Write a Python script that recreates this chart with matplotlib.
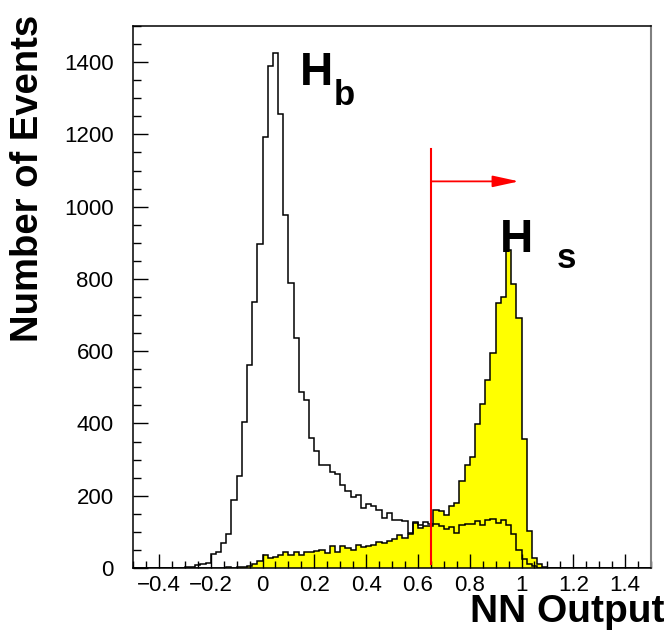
import numpy as np
import matplotlib
matplotlib.use("Agg")
import matplotlib.pyplot as plt
from matplotlib.ticker import MultipleLocator, FuncFormatter

# histogram binning (NN output)
x_min, x_max, bin_width = -0.5, 1.5, 0.02

# background (H_b) counts, first non-empty bin starts at -0.30
bkg_start = -0.30
bkg_counts = [3, 4, 7, 12, 15, 40, 45, 70, 95, 187,
              254, 404, 563, 736, 897, 1194, 1390, 1426, 1256, 977,
              789, 637, 486, 464, 360, 323, 285, 285, 265, 259,
              231, 214, 196, 202, 165, 178, 171, 160, 139, 153,
              133, 133, 130, 96, 126, 120, 127, 121, 123, 116,
              108, 114, 97, 120, 123, 123, 130, 120, 134, 136,
              125, 132, 118, 93, 51, 26, 10, 5, 1]

# signal (H_s) counts, first non-empty bin starts at -0.16
sig_start = -0.16
sig_counts = [1, 2, 1, 3, 2, 5, 10, 19, 37, 27,
              31, 35, 44, 35, 44, 36, 44, 44, 47, 50,
              41, 62, 44, 61, 56, 50, 63, 57, 60, 65,
              72, 70, 74, 81, 92, 84, 93, 125, 111, 115,
              116, 160, 157, 148, 171, 180, 242, 286, 306, 398,
              453, 520, 596, 734, 749, 879, 785, 693, 356, 102,
              29, 11, 3]

nn_cut = 0.65
cut_line_top = 1160
arrow_y = 1070
arrow_end = 0.99

edges = np.round(np.arange(x_min, x_max + bin_width / 2, bin_width), 4)
nbins = len(edges) - 1


def fill_bins(start, counts):
    h = np.zeros(nbins)
    i0 = int(round((start - x_min) / bin_width))
    h[i0:i0 + len(counts)] = counts
    return h


bkg = fill_bins(bkg_start, bkg_counts)
sig = fill_bins(sig_start, sig_counts)

plt.rcParams['font.family'] = ['Liberation Sans', 'DejaVu Sans']

fig = plt.figure(figsize=(6.71, 6.32), dpi=100)
ax = fig.add_axes([133 / 671, 1 - 568 / 632, 518 / 671, 542 / 632])

ax.stairs(sig, edges, fill=True, color='#ffff00', zorder=1)
ax.stairs(sig, edges, color='black', lw=1.1, zorder=2)
ax.stairs(bkg, edges, color='black', lw=1.1, zorder=3)

# cut and arrow
ax.plot([nn_cut, nn_cut], [10, cut_line_top], color='red', lw=1.5, zorder=4)
ax.annotate('', xy=(arrow_end, arrow_y), xytext=(nn_cut, arrow_y),
            arrowprops=dict(arrowstyle='-|>,head_length=1.6,head_width=0.35',
                            color='red', lw=1.3, shrinkA=0, shrinkB=0), zorder=5)

ax.set_xlim(x_min, x_max)
ax.set_ylim(0, 1500)

ax.xaxis.set_major_locator(MultipleLocator(0.2))
ax.xaxis.set_minor_locator(MultipleLocator(0.05))
ax.yaxis.set_major_locator(MultipleLocator(200))
ax.yaxis.set_minor_locator(MultipleLocator(50))


def fmt(v, pos):
    if abs(v) < 1e-9:
        return '0'
    s = ('%.1f' % v).rstrip('0').rstrip('.')
    return s.replace('-', '\u2212')


ax.xaxis.set_major_formatter(FuncFormatter(fmt))
ax.tick_params(which='both', direction='in', top=False, right=False,
               labelsize=16, width=1.0)
ax.tick_params(axis='y', which='major', length=11, pad=14)
ax.tick_params(axis='y', which='minor', length=5.5)
ax.tick_params(axis='x', which='major', length=10, pad=5)
ax.tick_params(axis='x', which='minor', length=5)

for side in ['left', 'bottom', 'top']:
    ax.spines[side].set_linewidth(1.1)
ax.spines['right'].set_linewidth(1.5)
ax.spines['right'].set_color('#808080')

# labels
ax.text(0.145, 1337, 'H', fontsize=33, fontweight='bold', ha='left', va='baseline')
ax.text(0.276, 1282, 'b', fontsize=25, fontweight='bold', ha='left', va='baseline')
ax.text(0.917, 875, 'H', fontsize=33, fontweight='bold', ha='left', va='baseline')
ax.text(1.137, 830, 's', fontsize=25, fontweight='bold', ha='left', va='baseline')

fig.text(28 / 671, 1 - 15 / 632, 'Number of Events', rotation=90,
         fontsize=27.5, fontweight='bold', ha='center', va='top')
fig.text(665 / 671, 1 - 612 / 632, 'NN Output', fontsize=28,
         fontweight='bold', ha='right', va='center')

fig.savefig('out.png', dpi=100)
